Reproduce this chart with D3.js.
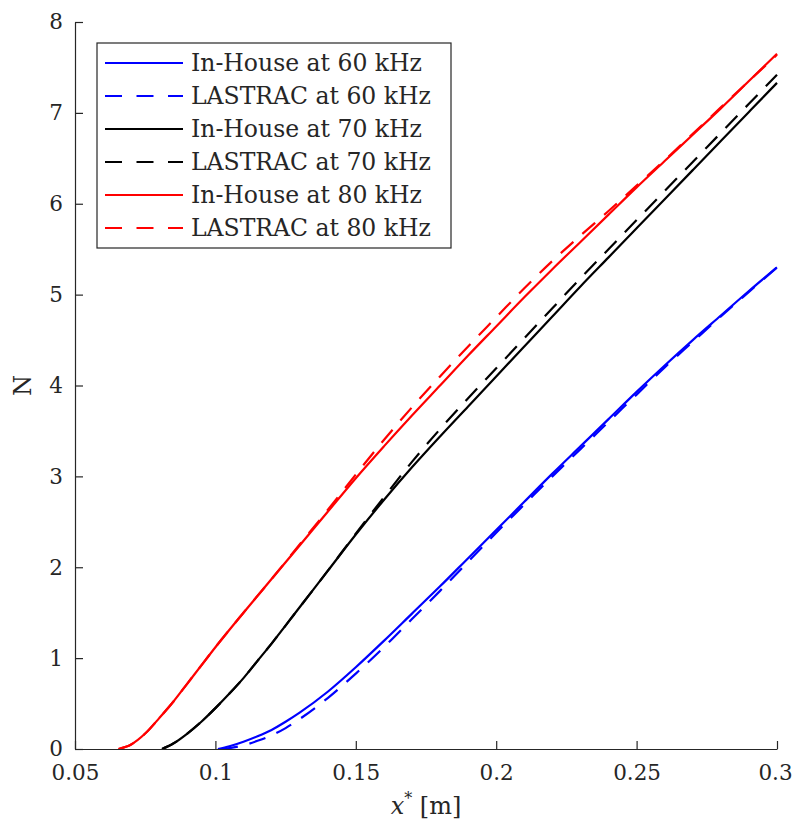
<!DOCTYPE html>
<html>
<head>
<meta charset="utf-8">
<script src="https://cdn.jsdelivr.net/npm/d3@7"></script>
<style>
  body { margin: 0; background: #fff; }
  text { font-family: 'DejaVu Serif', serif; fill: #262626; }
</style>
</head>
<body>
<div id="chart"></div>
<script>
// x* [m] and N values
let xInHouse80 = [0.0655, 0.07, 0.075, 0.08, 0.085, 0.09, 0.095, 0.1, 0.11, 0.12, 0.13, 0.14, 0.15, 0.16, 0.17, 0.18, 0.19, 0.2, 0.21, 0.22, 0.23, 0.24, 0.25, 0.26, 0.27, 0.28, 0.29, 0.3]
let nInHouse80 = [0, 0.05, 0.17, 0.34, 0.52, 0.72, 0.92, 1.12, 1.5, 1.87, 2.24, 2.61, 2.98, 3.33, 3.67, 4.0, 4.33, 4.65, 4.97, 5.28, 5.58, 5.88, 6.18, 6.47, 6.76, 7.05, 7.35, 7.65]
let xLastrac80 = [0.0655, 0.07, 0.075, 0.08, 0.085, 0.09, 0.095, 0.1, 0.11, 0.12, 0.13, 0.14, 0.15, 0.16, 0.17, 0.18, 0.19, 0.2, 0.21, 0.22, 0.23, 0.24, 0.25, 0.26, 0.27, 0.28, 0.29, 0.3]
let nLastrac80 = [0, 0.05, 0.17, 0.34, 0.52, 0.72, 0.92, 1.12, 1.5, 1.87, 2.25, 2.63, 3.02, 3.4, 3.76, 4.1, 4.43, 4.75, 5.07, 5.37, 5.65, 5.92, 6.2, 6.48, 6.77, 7.06, 7.35, 7.64]

let xInHouse70 = [0.081, 0.085, 0.09, 0.095, 0.1, 0.105, 0.11, 0.115, 0.12, 0.13, 0.14, 0.15, 0.16, 0.17, 0.18, 0.19, 0.2, 0.21, 0.22, 0.23, 0.24, 0.25, 0.26, 0.27, 0.28, 0.29, 0.3]
let nInHouse70 = [0, 0.06, 0.17, 0.3, 0.45, 0.61, 0.78, 0.97, 1.16, 1.56, 1.96, 2.36, 2.74, 3.1, 3.44, 3.77, 4.1, 4.43, 4.76, 5.09, 5.41, 5.73, 6.05, 6.37, 6.69, 7.01, 7.33]
let xLastrac70 = [0.081, 0.085, 0.09, 0.095, 0.1, 0.105, 0.11, 0.115, 0.12, 0.13, 0.14, 0.15, 0.16, 0.17, 0.18, 0.19, 0.2, 0.21, 0.22, 0.23, 0.24, 0.25, 0.26, 0.27, 0.28, 0.29, 0.3]
let nLastrac70 = [0, 0.06, 0.17, 0.3, 0.45, 0.61, 0.78, 0.97, 1.16, 1.56, 1.96, 2.37, 2.77, 3.16, 3.52, 3.86, 4.19, 4.52, 4.85, 5.18, 5.5, 5.82, 6.14, 6.46, 6.78, 7.1, 7.42]

let xInHouse60 = [0.1009, 0.105, 0.11, 0.115, 0.12, 0.125, 0.13, 0.14, 0.15, 0.16, 0.17, 0.18, 0.19, 0.2, 0.21, 0.22, 0.23, 0.24, 0.25, 0.26, 0.27, 0.28, 0.29, 0.3]
let nInHouse60 = [0, 0.03, 0.08, 0.14, 0.21, 0.3, 0.4, 0.63, 0.9, 1.19, 1.49, 1.79, 2.1, 2.41, 2.72, 3.03, 3.33, 3.63, 3.93, 4.22, 4.5, 4.77, 5.04, 5.3]
let xLastrac60 = [0.102, 0.105, 0.11, 0.115, 0.12, 0.125, 0.13, 0.14, 0.15, 0.16, 0.17, 0.18, 0.19, 0.2, 0.21, 0.22, 0.23, 0.24, 0.25, 0.26, 0.27, 0.28, 0.29, 0.3]
let nLastrac60 = [0, 0.01, 0.04, 0.09, 0.15, 0.23, 0.33, 0.56, 0.83, 1.12, 1.43, 1.74, 2.06, 2.38, 2.69, 3.0, 3.3, 3.6, 3.9, 4.2, 4.48, 4.76, 5.03, 5.3]

let xTicks = [0.05, 0.1, 0.15, 0.2, 0.25, 0.3]
let yTicks = [0, 1, 2, 3, 4, 5, 6, 7, 8]

let series = [
  { name: 'In-House at 60 kHz', x: xInHouse60, n: nInHouse60, color: '#0000ff', dashed: false },
  { name: 'LASTRAC at 60 kHz', x: xLastrac60, n: nLastrac60, color: '#0000ff', dashed: true },
  { name: 'In-House at 70 kHz', x: xInHouse70, n: nInHouse70, color: '#000000', dashed: false },
  { name: 'LASTRAC at 70 kHz', x: xLastrac70, n: nLastrac70, color: '#000000', dashed: true },
  { name: 'In-House at 80 kHz', x: xInHouse80, n: nInHouse80, color: '#ff0000', dashed: false },
  { name: 'LASTRAC at 80 kHz', x: xLastrac80, n: nLastrac80, color: '#ff0000', dashed: true }
]

let margin = { top: 22, left: 75, right: 16, bottom: 75 }
let width = 793 - margin.left - margin.right
let height = 824 - margin.top - margin.bottom

let svg = d3
  .select('#chart')
  .append('svg')
  .attr('width', width + margin.left + margin.right)
  .attr('height', height + margin.top + margin.bottom)
  .append('g')
  .attr('transform', 'translate(' + margin.left + ',' + margin.top + ')')

let xPositionScale = d3.scaleLinear().domain([0.05, 0.3]).range([0, 702])
let yPositionScale = d3.scaleLinear().domain([0, 8]).range([height, 0])

let line = d3
  .line()
  .x(d => xPositionScale(d[0]))
  .y(d => yPositionScale(d[1]))
  .curve(d3.curveMonotoneX)

let dash = '17,12'

// curves, solid drawn first per pair
svg
  .selectAll('.curve')
  .data(series)
  .enter()
  .append('path')
  .attr('class', 'curve')
  .attr('d', d => line(d.x.map((v, i) => [v, d.n[i]])))
  .attr('fill', 'none')
  .attr('stroke', d => d.color)
  .attr('stroke-width', 2.2)
  .attr('stroke-dasharray', d => (d.dashed ? dash : null))

// axes (MATLAB style, ticks inward, box off)
let xAxis = d3
  .axisBottom(xPositionScale)
  .tickValues(xTicks)
  .tickFormat(d3.format('~g'))
  .tickSizeInner(-8)
  .tickSizeOuter(0)
  .tickPadding(16)
svg
  .append('g')
  .attr('class', 'axis x-axis')
  .attr('transform', 'translate(0,' + height + ')')
  .call(xAxis)

let yAxis = d3
  .axisLeft(yPositionScale)
  .tickValues(yTicks)
  .tickSizeInner(-8)
  .tickSizeOuter(0)
  .tickPadding(12)
svg
  .append('g')
  .attr('class', 'axis y-axis')
  .call(yAxis)

svg.selectAll('.axis path').attr('stroke', '#262626').attr('stroke-width', 1.2)
svg.selectAll('.axis line').attr('stroke', '#262626').attr('stroke-width', 1.2)
svg
  .selectAll('.axis text')
  .attr('fill', '#262626')
  .style('font-family', "'DejaVu Serif', serif")
  .style('font-size', '21.5px')
svg.selectAll('.x-axis text').attr('dy', '0.68em')
// keep the last label inside the page
svg
  .selectAll('.x-axis .tick text')
  .filter(d => d === 0.3)
  .attr('x', -2)

// axis labels
svg
  .append('text')
  .attr('transform', 'translate(-44,' + height / 2 + ') rotate(-90)')
  .attr('text-anchor', 'middle')
  .attr('font-size', 24)
  .text('N')

let xLabel = svg
  .append('text')
  .attr('x', 351)
  .attr('y', height + 65)
  .attr('text-anchor', 'middle')
  .attr('font-size', 24)
xLabel.append('tspan').attr('font-style', 'italic').text('x')
xLabel.append('tspan').attr('font-size', 16).attr('dy', -10).text('*')
xLabel.append('tspan').attr('dy', 10).text(' [m]')

// legend
let legend = svg.append('g').attr('transform', 'translate(22,21)')
legend
  .append('rect')
  .attr('width', 354)
  .attr('height', 205)
  .attr('fill', '#fff')
  .attr('stroke', '#262626')
  .attr('stroke-width', 1.2)

let rows = legend
  .selectAll('.row')
  .data(series)
  .enter()
  .append('g')
  .attr('class', 'row')
  .attr('transform', (d, i) => 'translate(0,' + (20 + i * 33) + ')')

rows
  .append('line')
  .attr('x1', 8)
  .attr('x2', 86)
  .attr('stroke', d => d.color)
  .attr('stroke-width', 2.2)
  .attr('stroke-dasharray', d => (d.dashed ? '17,14.5' : null))

rows
  .append('text')
  .attr('x', 94)
  .attr('dy', '0.36em')
  .attr('font-size', 23.5)
  .text(d => d.name)
</script>
</body>
</html>
